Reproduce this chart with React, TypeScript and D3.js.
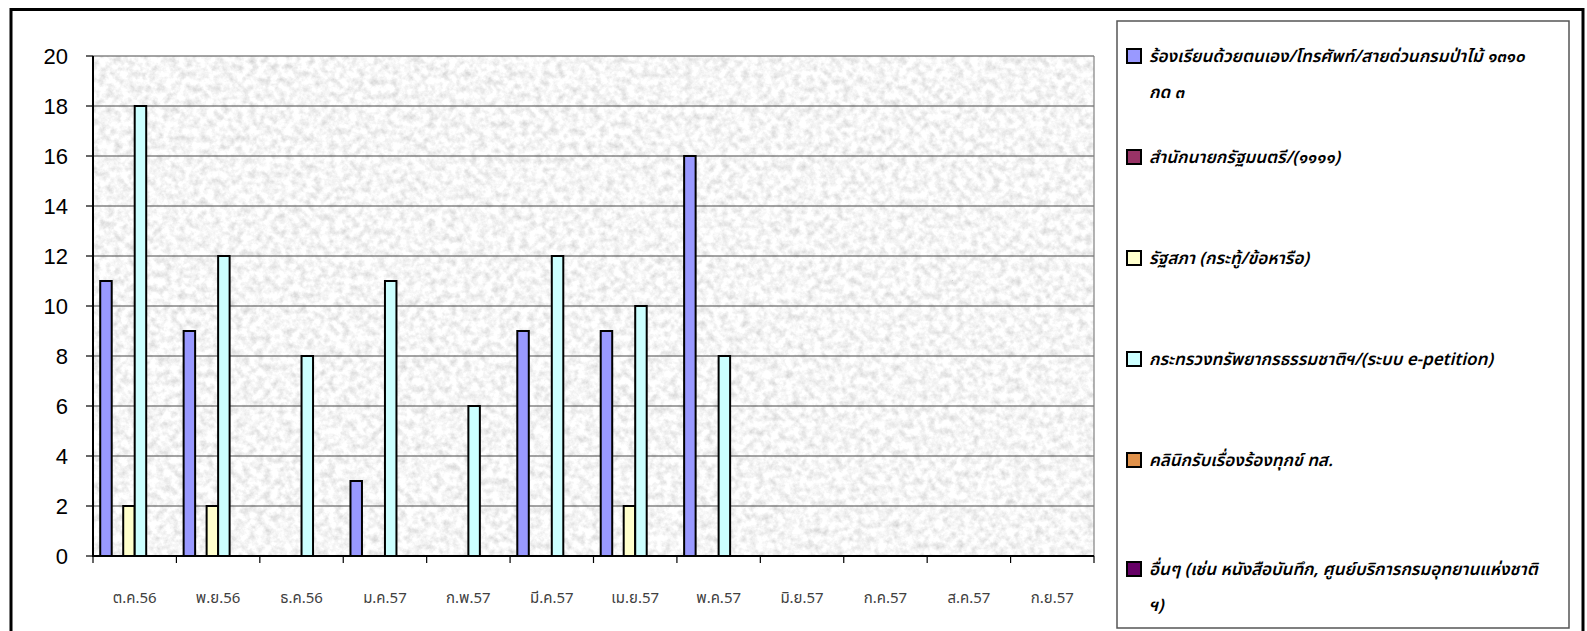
import React from "react";
import * as d3 from "d3";

const months = ["ต.ค.56", "พ.ย.56", "ธ.ค.56", "ม.ค.57", "ก.พ.57", "มี.ค.57", "เม.ย.57", "พ.ค.57", "มิ.ย.57", "ก.ค.57", "ส.ค.57", "ก.ย.57"];

const seriesNames = [
  ["ร้องเรียนด้วยตนเอง/โทรศัพท์/สายด่วนกรมป่าไม้ ๑๓๑๐", "กด ๓"],
  ["สำนักนายกรัฐมนตรี/(๑๑๑๑)"],
  ["รัฐสภา (กระทู้/ข้อหารือ)"],
  ["กระทรวงทรัพยากรธรรมชาติฯ/(ระบบ e-petition)"],
  ["คลินิกรับเรื่องร้องทุกข์ ทส."],
  ["อื่นๆ (เช่น หนังสือบันทึก, ศูนย์บริการกรมอุทยานแห่งชาติ", "ฯ)"],
];

const seriesColors = ["#9999FF", "#993366", "#FFFFCC", "#CCFFFF", "#E0914A", "#660066"];

const selfPhone = [11, 9, 0, 3, 0, 9, 9, 16, 0, 0, 0, 0];
const primeMinister = [0, 0, 0, 0, 0, 0, 0, 0, 0, 0, 0, 0];
const parliament = [2, 2, 0, 0, 0, 0, 2, 0, 0, 0, 0, 0];
const ministryEPetition = [18, 12, 8, 11, 6, 12, 10, 8, 0, 0, 0, 0];
const clinic = [0, 0, 0, 0, 0, 0, 0, 0, 0, 0, 0, 0];
const others = [0, 0, 0, 0, 0, 0, 0, 0, 0, 0, 0, 0];

const seriesValues = [selfPhone, primeMinister, parliament, ministryEPetition, clinic, others];

const yTicks = [0, 2, 4, 6, 8, 10, 12, 14, 16, 18, 20];

const W = 1587;
const H = 631;
const plotL = 93;
const plotR = 1094;
const plotT = 56;
const plotB = 556;

const thaiFont = "Tahoma, 'Noto Sans Thai', 'Noto Sans', 'DejaVu Sans', sans-serif";

export default function App() {
  const x0 = d3.scaleBand<string>().domain(months).range([plotL, plotR]).paddingInner(0).paddingOuter(0);
  const bw = x0.bandwidth();
  const pad = bw * 0.0865;
  const x1 = d3
    .scaleBand<number>()
    .domain(d3.range(seriesValues.length))
    .range([pad, bw - pad])
    .padding(0);
  const y = d3.scaleLinear().domain([0, 20]).range([plotB, plotT]);

  const legendX = 1117;
  const legendY = 21;

  return (
    <svg
      width={W}
      height={H}
      viewBox={`0 0 ${W} ${H}`}
      style={{ position: "absolute", left: 0, top: 0, background: "#fff" }}
    >
      <defs>
        <filter id="granite" x="0" y="0" width="100%" height="100%" filterUnits="objectBoundingBox">
          <feTurbulence type="fractalNoise" baseFrequency="0.14" numOctaves="4" seed="7" result="n" />
          <feColorMatrix
            in="n"
            type="matrix"
            values="0.6 0 0 0 0.62  0.6 0 0 0 0.62  0.6 0 0 0 0.62  0 0 0 0 1"
          />
        </filter>
      </defs>

      {/* outer chart border */}
      <rect x={11} y={9.5} width={1572} height={640} fill="none" stroke="#000" strokeWidth={3} />

      {/* plot area */}
      <rect x={plotL} y={plotT} width={plotR - plotL} height={plotB - plotT} fill="#e8e8e8" />
      <rect x={plotL} y={plotT} width={plotR - plotL} height={plotB - plotT} fill="#fff" filter="url(#granite)" />

      {/* gridlines */}
      {yTicks.map((t) => (
        <line key={"g" + t} x1={plotL} x2={plotR} y1={y(t)} y2={y(t)} stroke="#4a4a4a" strokeWidth={1.2} />
      ))}
      <line x1={plotR} x2={plotR} y1={plotT} y2={plotB} stroke="#808080" strokeWidth={1.2} />

      {/* bars */}
      {months.map((m, mi) =>
        seriesValues.map((vals, si) => {
          const v = vals[mi];
          if (!v) return null;
          const bx = (x0(m) as number) + (x1(si) as number);
          return (
            <rect
              key={m + si}
              x={bx}
              y={y(v)}
              width={x1.bandwidth()}
              height={plotB - y(v)}
              fill={seriesColors[si]}
              stroke="#000"
              strokeWidth={2}
            />
          );
        })
      )}

      {/* axes */}
      <line x1={plotL} x2={plotL} y1={plotT} y2={plotB} stroke="#000" strokeWidth={2} />
      <line x1={plotL - 1} x2={plotR} y1={plotB} y2={plotB} stroke="#000" strokeWidth={2} />
      {yTicks.map((t) => (
        <g key={"yt" + t}>
          <line x1={plotL - 7} x2={plotL} y1={y(t)} y2={y(t)} stroke="#000" strokeWidth={1.2} />
          <text
            x={68}
            y={y(t)}
            dy="0.36em"
            textAnchor="end"
            fontFamily="Arial, 'Liberation Sans', sans-serif"
            fontSize={22}
            fill="#000"
          >
            {t}
          </text>
        </g>
      ))}
      {months.concat(["__end"]).map((m, i) => {
        const xx = plotL + i * bw;
        return <line key={"xt" + i} x1={xx} x2={xx} y1={plotB} y2={plotB + 7} stroke="#000" strokeWidth={1.2} />;
      })}
      {months.map((m) => (
        <text
          key={"xl" + m}
          x={(x0(m) as number) + bw / 2}
          y={603}
          textAnchor="middle"
          fontFamily={thaiFont}
          fontSize={15}
          fill="#404040"
        >
          {m}
        </text>
      ))}

      {/* legend */}
      <rect x={legendX} y={legendY} width={1569 - legendX} height={628 - legendY} fill="#fff" stroke="#555" strokeWidth={1.5} />
      {seriesNames.map((lines, i) => {
        const cy = 56 + i * 101 + (i === 5 ? 8 : 0);
        return (
          <g key={"lg" + i}>
            <rect x={1127} y={cy - 7} width={14} height={14} fill={seriesColors[i]} stroke="#000" strokeWidth={2} />
            {lines.map((ln, li) => (
              <text
                key={li}
                x={1149}
                y={cy + li * 36}
                dy="0.35em"
                fontFamily={thaiFont}
                fontStyle="italic"
                fontWeight={600}
                fontSize={17}
                fill="#000"
              >
                {ln}
              </text>
            ))}
          </g>
        );
      })}
    </svg>
  );
}
